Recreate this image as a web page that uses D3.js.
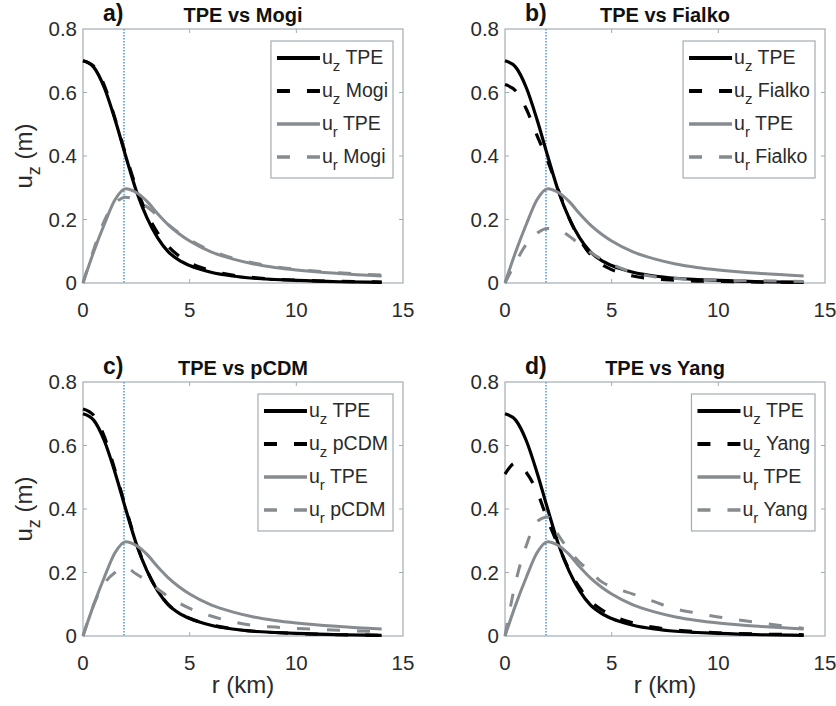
<!DOCTYPE html>
<html>
<head>
<meta charset="utf-8">
<script src="https://cdn.jsdelivr.net/npm/d3@7"></script>
<style>
  body { margin: 0; background: #fff; }
  svg { display: block; font-family: "Liberation Sans", Arial, sans-serif; }
</style>
</head>
<body>
<div id="chart"></div>
<script>
// radial distance (km) shared by every curve
const R = [0, 0.5, 1, 1.5, 2, 2.5, 3, 3.5, 4, 4.5, 5, 6, 7, 8, 9, 10, 12, 14];

// TPE reference solution
const uzTPE = [0.700, 0.680, 0.615, 0.515, 0.400, 0.290, 0.205, 0.142, 0.098, 0.072, 0.055, 0.034, 0.022, 0.015, 0.011, 0.008, 0.004, 0.002];
const urTPE = [0, 0.098, 0.185, 0.262, 0.297, 0.285, 0.257, 0.218, 0.183, 0.155, 0.132, 0.098, 0.076, 0.060, 0.049, 0.041, 0.030, 0.022];

// analytical models
const uzMogi = [0.700, 0.683, 0.622, 0.518, 0.405, 0.300, 0.218, 0.158, 0.115, 0.085, 0.064, 0.039, 0.025, 0.017, 0.012, 0.009, 0.005, 0.003];
const urMogi = [0, 0.105, 0.196, 0.250, 0.270, 0.262, 0.240, 0.212, 0.184, 0.158, 0.136, 0.102, 0.079, 0.063, 0.051, 0.043, 0.032, 0.025];
const uzFialko = [0.625, 0.605, 0.548, 0.465, 0.385, 0.293, 0.205, 0.138, 0.090, 0.060, 0.042, 0.022, 0.013, 0.009, 0.006, 0.005, 0.003, 0.002];
const urFialko = [0, 0.065, 0.122, 0.157, 0.172, 0.168, 0.148, 0.122, 0.097, 0.076, 0.059, 0.033, 0.020, 0.014, 0.011, 0.009, 0.007, 0.005];
const uzPCDM = [0.715, 0.695, 0.628, 0.522, 0.405, 0.293, 0.206, 0.143, 0.099, 0.073, 0.056, 0.035, 0.023, 0.015, 0.011, 0.008, 0.004, 0.002];
const urPCDM = [0, 0.098, 0.165, 0.200, 0.215, 0.195, 0.174, 0.148, 0.124, 0.104, 0.087, 0.063, 0.045, 0.033, 0.028, 0.024, 0.018, 0.014];
const uzYang = [0.510, 0.545, 0.515, 0.455, 0.365, 0.285, 0.210, 0.152, 0.110, 0.084, 0.065, 0.041, 0.027, 0.019, 0.014, 0.010, 0.006, 0.004];
const urYang = [0, 0.170, 0.285, 0.360, 0.375, 0.318, 0.270, 0.232, 0.203, 0.172, 0.155, 0.132, 0.108, 0.085, 0.072, 0.060, 0.041, 0.024];

const sourceRadius = 1.92;
const xTicks = [0, 5, 10, 15];
const yTicks = [0, 0.2, 0.4, 0.6, 0.8];
const panelLetters = ["a)", "b)", "c)", "d)"];
const modelNames = ["Mogi", "Fialko", "pCDM", "Yang"];
const modelUz = [uzMogi, uzFialko, uzPCDM, uzYang];
const modelUr = [urMogi, urFialko, urPCDM, urYang];

const W = 836, H = 706;
const PW = 320, PH = 254;
const LEFTS = [83, 505];
const TOPS = [29, 382];
const BLACK = "#000", GRAY = "#868b8f", AXIS = "#a4acb3", TEXT = "#2b2b2b";
const DASH = "13,17";

const svg = d3.select("#chart").append("svg").attr("width", W).attr("height", H);

function subText(sel, sub, rest, subSize, shift) {
  sel.append("tspan").text("u");
  sel.append("tspan").text(sub).attr("font-size", subSize).attr("dy", shift);
  sel.append("tspan").text(rest).attr("dy", -shift);
}

modelNames.forEach((name, i) => {
  const col = i % 2, row = Math.floor(i / 2);
  const g = svg.append("g").attr("transform", `translate(${LEFTS[col]},${TOPS[row]})`);

  const x = d3.scaleLinear().domain([0, 15]).range([0, PW]);
  const y = d3.scaleLinear().domain([0, 0.8]).range([PH, 0]);

  // frame and inward ticks
  g.append("rect").attr("width", PW).attr("height", PH)
    .attr("fill", "none").attr("stroke", AXIS).attr("stroke-width", 1.2);
  g.append("g").selectAll("line").data(xTicks.slice(1, -1)).join("line")
    .attr("x1", (d) => x(d)).attr("x2", (d) => x(d))
    .attr("y1", PH).attr("y2", PH - 4).attr("stroke", AXIS);
  g.append("g").selectAll("line").data(xTicks.slice(1, -1)).join("line")
    .attr("x1", (d) => x(d)).attr("x2", (d) => x(d))
    .attr("y1", 0).attr("y2", 4).attr("stroke", AXIS);
  g.append("g").selectAll("line").data(yTicks.slice(1, -1)).join("line")
    .attr("x1", 0).attr("x2", 4)
    .attr("y1", (d) => y(d)).attr("y2", (d) => y(d)).attr("stroke", AXIS);
  g.append("g").selectAll("line").data(yTicks.slice(1, -1)).join("line")
    .attr("x1", PW).attr("x2", PW - 4)
    .attr("y1", (d) => y(d)).attr("y2", (d) => y(d)).attr("stroke", AXIS);

  // tick labels
  g.append("g").selectAll("text").data(xTicks).join("text")
    .attr("x", (d) => x(d)).attr("y", PH + 34)
    .attr("text-anchor", "middle").attr("font-size", 20.5).attr("fill", TEXT)
    .text((d) => d);
  g.append("g").selectAll("text").data(yTicks).join("text")
    .attr("x", -6).attr("y", (d) => y(d) + 7)
    .attr("text-anchor", "end").attr("font-size", 20.5).attr("fill", TEXT)
    .text((d) => d);

  // source radius marker
  g.append("line")
    .attr("x1", x(sourceRadius)).attr("x2", x(sourceRadius))
    .attr("y1", 0).attr("y2", PH)
    .attr("stroke", "#7aaed6").attr("stroke-width", 2)
    .attr("stroke-dasharray", "1.6,1.4");

  const line = d3.line()
    .x((d) => x(d[0])).y((d) => y(d[1]))
    .curve(d3.curveMonotoneX);
  const series = [
    { v: uzTPE, color: BLACK, dash: null, w: 3.2, sub: "z", label: " TPE" },
    { v: modelUz[i], color: BLACK, dash: DASH, w: 3.2, sub: "z", label: " " + name },
    { v: urTPE, color: GRAY, dash: null, w: 3, sub: "r", label: " TPE" },
    { v: modelUr[i], color: GRAY, dash: DASH, w: 3, sub: "r", label: " " + name },
  ];
  g.append("g").selectAll("path").data(series).join("path")
    .attr("d", (s) => line(R.map((r, k) => [r, s.v[k]])))
    .attr("fill", "none").attr("stroke", (s) => s.color)
    .attr("stroke-width", (s) => s.w)
    .attr("stroke-dasharray", (s) => s.dash)
    .attr("stroke-linejoin", "round");

  // legend, sized to its text and pinned to the upper right
  const leg = g.append("g");
  const rows = leg.selectAll("g").data(series).join("g")
    .attr("transform", (s, k) => `translate(0,${17 + k * 33})`);
  rows.append("line").attr("x1", 0).attr("x2", 43).attr("y1", 0).attr("y2", 0)
    .attr("stroke", (s) => s.color).attr("stroke-width", (s) => s.w + 0.6)
    .attr("stroke-dasharray", (s) => s.dash);
  rows.append("text").attr("x", 45).attr("y", 6)
    .attr("font-size", 19.5).attr("fill", TEXT)
    .each(function (s) { subText(d3.select(this), s.sub, s.label, 15, 7); });
  const bb = leg.node().getBBox();
  const legW = bb.width + 11;
  leg.insert("rect", ":first-child")
    .attr("x", -6).attr("y", 0).attr("width", legW).attr("height", 137)
    .attr("fill", "#fff").attr("stroke", AXIS).attr("stroke-width", 1.2);
  leg.attr("transform", `translate(${PW - 10 - legW + 6},12)`);

  // panel letter and title
  g.append("text").attr("x", 20).attr("y", -8)
    .attr("font-size", 23).attr("font-weight", "bold").attr("fill", "#111")
    .text(panelLetters[i]);
  g.append("text").attr("x", PW / 2).attr("y", -7)
    .attr("text-anchor", "middle").attr("font-size", 20).attr("font-weight", "bold").attr("fill", "#111")
    .text("TPE vs " + name);

  if (col === 0) {
    const yl = g.append("text")
      .attr("transform", `translate(-51,${PH / 2}) rotate(-90)`)
      .attr("text-anchor", "middle").attr("font-size", 24).attr("fill", TEXT);
    subText(yl, "z", " (m)", 18, 8);
  }
  if (row === 1) {
    g.append("text").attr("x", PW / 2).attr("y", PH + 57)
      .attr("text-anchor", "middle").attr("font-size", 24).attr("fill", TEXT)
      .text("r (km)");
  }
});
</script>
</body>
</html>
